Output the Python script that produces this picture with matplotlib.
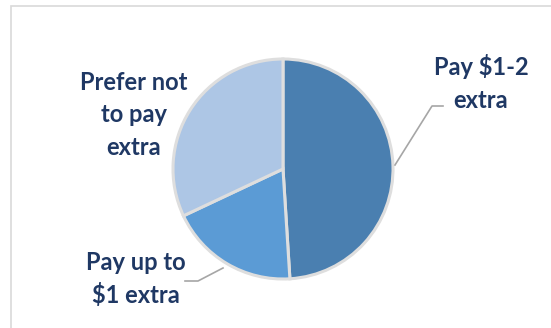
import matplotlib.pyplot as plt
from matplotlib.patches import Rectangle

# share of respondents by willingness to pay extra
labels = ["Pay $1-2\nextra", "Pay up to\n$1 extra", "Prefer not\nto pay\nextra"]
shares = [49, 19, 32]
colors = ["#4a7fb0", "#5b9bd5", "#adc6e5"]

W, H = 551, 328
fig = plt.figure(figsize=(W / 100, H / 100), dpi=100)
ax = fig.add_axes([0, 0, 1, 1])
ax.set_xlim(0, W)
ax.set_ylim(0, H)
ax.set_aspect("equal")
ax.axis("off")

# chart frame
ax.add_patch(Rectangle((11, -5), W, H - 6 + 5, fill=False, edgecolor="#d9d9d9", lw=1.2))

cx, cy, r = 283, H - 169, 110
ax.pie(shares, colors=colors, startangle=90, counterclock=False,
       center=(cx, cy), radius=r, explode=[0.012, 0.012, 0.012],
       wedgeprops=dict(edgecolor="#dedede", linewidth=2.2))
ax.set_xlim(0, W)
ax.set_ylim(0, H)

txt = dict(ha="center", va="center", color="#1f3864", fontsize=17,
           fontweight="bold", family="Lato", linespacing=1.5)
ax.text(481, H - 83, labels[0], **txt)
ax.text(136, H - 279, labels[1], **txt)
ax.text(134, H - 115, labels[2], **txt)

# leader lines
ax.plot([395, 432, 443], [H - 165, H - 106, H - 106], color="#a6a6a6", lw=1.2)
ax.plot([223, 198, 185], [H - 268, H - 281, H - 281], color="#a6a6a6", lw=1.2)

fig.savefig("out.png", dpi=100)
